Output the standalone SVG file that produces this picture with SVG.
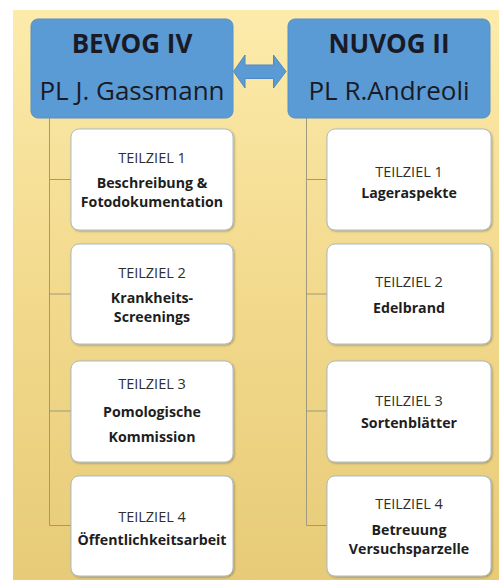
<svg xmlns="http://www.w3.org/2000/svg" width="499" height="580" viewBox="0 0 499 580">
<defs>
<linearGradient id="bg" x1="0" y1="0" x2="0" y2="1">
<stop offset="0" stop-color="#fcebab"/>
<stop offset="0.5" stop-color="#f2d98c"/>
<stop offset="1" stop-color="#e7cb78"/>
</linearGradient>
<filter id="sh" x="-10%" y="-10%" width="120%" height="120%">
<feGaussianBlur in="SourceAlpha" stdDeviation="1.2"/>
<feOffset dx="0.5" dy="1" result="b"/>
<feComponentTransfer><feFuncA type="linear" slope="0.3"/></feComponentTransfer>
<feMerge><feMergeNode/><feMergeNode in="SourceGraphic"/></feMerge>
</filter>
</defs>
<style>
.hdr{fill:#5b9bd5;stroke:#5590c8;stroke-width:1}
.box{fill:#ffffff;stroke:#aabbcc;stroke-width:1;filter:url(#sh)}
.t1{font-family:"Open Sans","Liberation Sans",sans-serif;font-weight:bold;font-size:26px;fill:#1a1a26;text-anchor:middle}
.t2{font-family:"Open Sans","Liberation Sans",sans-serif;font-size:26px;fill:#1a1a26;text-anchor:middle}
.lab{font-family:"Open Sans","Liberation Sans",sans-serif;font-size:14.5px;fill:#2e2e2e;text-anchor:middle}
.txt{font-family:"Open Sans","Liberation Sans",sans-serif;font-weight:bold;font-size:14.2px;fill:#1e1e1e;text-anchor:middle}
.con{fill:none;stroke:#9d9a7e;stroke-width:1}
.arr{fill:#5b9bd5;stroke:#5088c0;stroke-width:1}
</style>
<rect x="0" y="0" width="499" height="580" fill="#ffffff"/>
<rect x="13" y="10" width="486" height="570" fill="url(#bg)"/>

<g id="connectors">
<path class="con" d="M49.5,118 V525.5 H71 M49.5,179.5 H71 M49.5,294 H71 M49.5,411 H71"/>
<path class="con" d="M306.5,118 V525.5 H327 M306.5,179.5 H327 M306.5,294 H327 M306.5,411 H327"/>
<path id="link" class="arr" d="M233.5,71.5 L245,55 L245,65 L273.5,65 L273.5,55 L286,71.5 L273.5,88 L273.5,78.5 L245,78.5 L245,88 Z"/>
</g>

<g id="bevog">
<rect class="hdr" x="31" y="19" width="202" height="99" rx="7"/>
<text class="t1" x="132" y="53">BEVOG IV</text>
<text class="t2" x="132" y="100">PL J. Gassmann</text>
</g>
<g id="nuvog">
<rect class="hdr" x="288" y="19" width="202" height="99" rx="7"/>
<text class="t1" x="389" y="53">NUVOG II</text>
<text class="t2" x="389" y="100">PL R.Andreoli</text>
</g>

<g id="b1">
<rect class="box" x="71" y="129" width="162" height="101" rx="8"/>
<text class="lab" x="152" y="163">TEILZIEL 1</text>
<text class="txt" x="152" y="188">Beschreibung &amp;</text>
<text class="txt" x="152" y="207">Fotodokumentation</text>
</g>
<g id="b2">
<rect class="box" x="71" y="244" width="162" height="100" rx="8"/>
<text class="lab" x="152" y="278">TEILZIEL 2</text>
<text class="txt" x="152" y="302.5">Krankheits-</text>
<text class="txt" x="152" y="321.5">Screenings</text>
</g>
<g id="b3">
<rect class="box" x="71" y="361" width="162" height="101" rx="8"/>
<text class="lab" x="152" y="389">TEILZIEL 3</text>
<text class="txt" x="152" y="416.5">Pomologische</text>
<text class="txt" x="152" y="441.5">Kommission</text>
</g>
<g id="b4">
<rect class="box" x="71" y="476" width="162" height="100" rx="8"/>
<text class="lab" x="152" y="521.5">TEILZIEL 4</text>
<text class="txt" x="152" y="545">Öffentlichkeitsarbeit</text>
</g>

<g id="n1">
<rect class="box" x="327" y="129" width="164" height="101" rx="8"/>
<text class="lab" x="409" y="176.5">TEILZIEL 1</text>
<text class="txt" x="409" y="197.5">Lageraspekte</text>
</g>
<g id="n2">
<rect class="box" x="327" y="244" width="164" height="100" rx="8"/>
<text class="lab" x="409" y="286.5">TEILZIEL 2</text>
<text class="txt" x="409" y="313">Edelbrand</text>
</g>
<g id="n3">
<rect class="box" x="327" y="361" width="164" height="101" rx="8"/>
<text class="lab" x="409" y="406">TEILZIEL 3</text>
<text class="txt" x="409" y="427.5">Sortenblätter</text>
</g>
<g id="n4">
<rect class="box" x="327" y="476" width="164" height="100" rx="8"/>
<text class="lab" x="409" y="509">TEILZIEL 4</text>
<text class="txt" x="409" y="535">Betreuung</text>
<text class="txt" x="409" y="553.5">Versuchsparzelle</text>
</g>
</svg>
